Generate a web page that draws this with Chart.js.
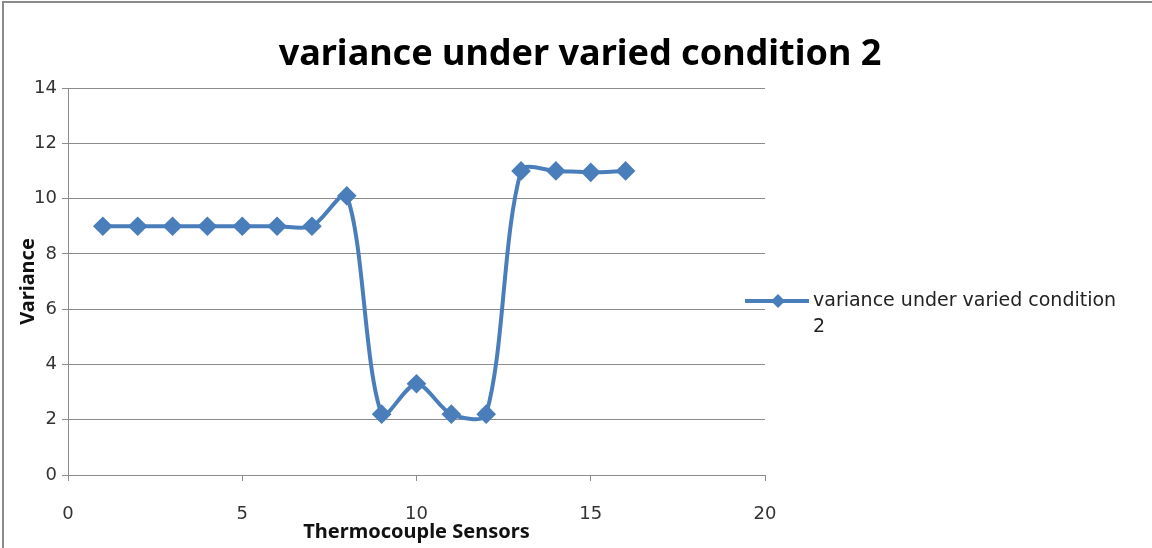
<!DOCTYPE html>
<html>
<head>
<meta charset="utf-8">
<script src="https://cdn.jsdelivr.net/npm/chart.js@4/dist/chart.umd.min.js"></script>
<style>
  html, body { margin: 0; padding: 0; background: #fff; }
  #wrap { position: relative; width: 1152px; height: 548px; }
</style>
</head>
<body>
<div id="wrap"><canvas id="c" width="1152" height="548"></canvas></div>
<script>
// sensor number vs variance
var sensors = [1, 2, 3, 4, 5, 6, 7, 8, 9, 10, 11, 12, 13, 14, 15, 16];
var variance = [9, 9, 9, 9, 9, 9, 9, 10.1, 2.2, 3.3, 2.2, 2.2, 11, 11, 10.95, 11];
var xTicks = [0, 5, 10, 15, 20];
var yTicks = [0, 2, 4, 6, 8, 10, 12, 14];

var SERIES = "variance under varied condition 2";
var BLUE = "#4a7ebb";
var GRID = "#8c8c8c";
var FONT = "'Noto Sans', 'Open Sans', sans-serif";
var TICKFONT = "'DejaVu Sans', 'Noto Sans', sans-serif";

var points = sensors.map(function (s, i) { return { x: s, y: variance[i] }; });

/* Excel-style frame (only left and top edges show) and a title centred on the whole canvas */
var frame = {
  id: "frame",
  afterDraw: function (chart) {
    var ctx = chart.ctx;
    ctx.save();
    ctx.strokeStyle = "#8a8a8a";
    ctx.lineWidth = 2;
    ctx.beginPath();
    ctx.moveTo(3, chart.height);
    ctx.lineTo(3, 2);
    ctx.lineTo(chart.width, 2);
    ctx.stroke();

    ctx.fillStyle = "#000";
    ctx.font = "bold 36px " + FONT;
    ctx.textAlign = "center";
    ctx.textBaseline = "middle";
    ctx.fillText(SERIES, chart.width / 2 + 4, 55);
    ctx.restore();
  }
};

/* right-hand legend that wraps its label like the Excel one */
var sideLegend = {
  id: "sideLegend",
  afterDraw: function (chart) {
    var ctx = chart.ctx, ds = chart.data.datasets[0];
    var area = chart.chartArea;
    var x0 = area.right - 20, y0 = 301;
    ctx.save();
    ctx.strokeStyle = ds.borderColor;
    ctx.lineWidth = 4;
    ctx.beginPath();
    ctx.moveTo(x0, y0);
    ctx.lineTo(x0 + 64, y0);
    ctx.stroke();
    ctx.fillStyle = ds.borderColor;
    ctx.beginPath();
    var cx = x0 + 33, r = 7;
    ctx.moveTo(cx, y0 - r); ctx.lineTo(cx + r, y0); ctx.lineTo(cx, y0 + r); ctx.lineTo(cx - r, y0);
    ctx.closePath();
    ctx.fill();

    ctx.font = "19px " + TICKFONT;
    ctx.fillStyle = "#222";
    ctx.textBaseline = "middle";
    var tx = x0 + 68;
    var words = ds.label.split(" "), lines = [], cur = "";
    var maxW = 316;
    words.forEach(function (w) {
      var t = cur ? cur + " " + w : w;
      if (ctx.measureText(t).width > maxW && cur) { lines.push(cur); cur = w; } else cur = t;
    });
    lines.push(cur);
    lines.forEach(function (l, i) { ctx.fillText(l, tx, y0 + i * 26); });
    ctx.restore();
  }
};

new Chart(document.getElementById("c"), {
  type: "scatter",
  data: {
    datasets: [{
      label: SERIES,
      data: points,
      showLine: true,
      tension: 0.3,
      borderColor: BLUE,
      backgroundColor: BLUE,
      borderWidth: 4,
      pointStyle: "rectRot",
      pointRadius: 7,
      pointHoverRadius: 7
    }]
  },
  options: {
    responsive: false,
    animation: false,
    devicePixelRatio: 1,
    layout: { padding: { left: 0, right: 387, top: 88, bottom: 0 } },
    plugins: {
      legend: { display: false },
      tooltip: { enabled: false },
      title: { display: false }
    },
    scales: {
      x: {
        type: "linear",
        min: 0, max: 20,
        afterBuildTicks: function (s) { s.ticks = xTicks.map(function (v) { return { value: v }; }); },
        afterFit: function (s) { s.height = 73; },
        grid: { color: "transparent", tickColor: GRID, drawTicks: true, tickLength: 6 },
        border: { display: true, color: GRID, width: 1 },
        ticks: { color: "#333", padding: 23, maxRotation: 0, font: { family: TICKFONT, size: 18 } },
        title: {
          display: true, text: "Thermocouple Sensors", color: "#111",
          font: { family: FONT, size: 20, weight: "bold", lineHeight: 1.2 },
          padding: { top: 0, bottom: 4 }
        }
      },
      y: {
        type: "linear",
        min: 0, max: 14,
        afterBuildTicks: function (s) { s.ticks = yTicks.map(function (v) { return { value: v }; }); },
        afterFit: function (s) { s.width = 68; },
        grid: { color: GRID, tickColor: GRID, drawTicks: true, tickLength: 6 },
        border: { display: true, color: GRID, width: 1 },
        ticks: { color: "#333", padding: 5, font: { family: TICKFONT, size: 18 } },
        title: {
          display: true, text: "Variance", color: "#111",
          font: { family: FONT, size: 20, weight: "bold", lineHeight: 1.2 },
          padding: { top: 16, bottom: 0 }
        }
      }
    }
  },
  plugins: [frame, sideLegend]
});
</script>
</body>
</html>
